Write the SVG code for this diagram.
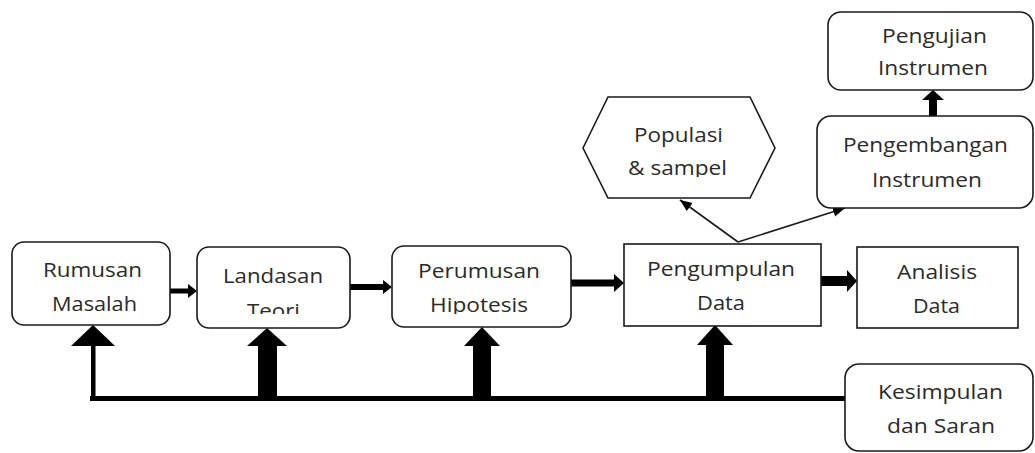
<svg xmlns="http://www.w3.org/2000/svg" width="1035" height="453" viewBox="0 0 1035 453">
<style>
.box{fill:#fff;stroke:#1a1a1a;stroke-width:1.6}
.t{font-family:"Open Sans","Noto Sans",sans-serif;font-size:20px;fill:#2b2b2b;text-anchor:middle}
.arr{fill:#000;stroke:none}
.thin{stroke:#1a1a1a;stroke-width:1.6;fill:none;marker-end:url(#ah)}
</style>
<defs>
<marker id="ah" markerUnits="userSpaceOnUse" markerWidth="14" markerHeight="12" refX="12" refY="6" orient="auto">
<path d="M0,1 L12,6 L0,11 Z" fill="#000"/>
</marker>
<clipPath id="cTeori"><rect x="200" y="290" width="150" height="24"/></clipPath>
<clipPath id="cHipo"><rect x="395" y="290" width="175" height="24"/></clipPath>
<clipPath id="cSampel"><rect x="600" y="155" width="160" height="22"/></clipPath>
</defs>
<rect width="1035" height="453" fill="#fff"/>
<g id="connectors">
<!-- horizontal flow -->
<rect class="arr" x="170" y="288.5" width="19" height="5"/>
<polygon class="arr" points="188,284 197,291 188,298"/>
<rect class="arr" x="350" y="284" width="34" height="6"/>
<polygon class="arr" points="383,280 392,287 383,294"/>
<rect class="arr" x="571" y="279.5" width="44" height="7"/>
<polygon class="arr" points="614,274 624,283 614,292"/>
<rect class="arr" x="821" y="276" width="27" height="10"/>
<polygon class="arr" points="847,270 857,281 847,292"/>
<!-- up to Pengujian -->
<rect class="arr" x="929" y="99" width="8" height="18"/>
<polygon class="arr" points="922,100 933,90 944,100"/>
<!-- from Pengumpulan -->
<line class="thin" x1="738" y1="242" x2="680" y2="200"/>
<line class="thin" x1="738" y1="242" x2="845" y2="208"/>
<!-- feedback bus -->
<rect class="arr" x="90" y="396" width="756" height="5"/>
<rect class="arr" x="91" y="344" width="4.5" height="55"/>
<polygon class="arr" points="71,346 93,325 115,346"/>
<rect class="arr" x="258" y="344" width="19" height="54"/>
<polygon class="arr" points="247,346 267,328 287,346"/>
<rect class="arr" x="473" y="344" width="18" height="54"/>
<polygon class="arr" points="464,346 482,327 500,346"/>
<rect class="arr" x="706" y="343" width="18" height="53"/>
<polygon class="arr" points="697,345 715,325 733,345"/>
</g>
<g id="rumusan">
<rect class="box" x="12" y="242" width="158" height="83" rx="12"/>
<text class="t" x="92.5" y="277" textLength="99" lengthAdjust="spacingAndGlyphs">Rumusan</text>
<text class="t" x="94.5" y="311" textLength="85" lengthAdjust="spacingAndGlyphs">Masalah</text>
</g>
<g id="landasan">
<rect class="box" x="197" y="247" width="153" height="81" rx="12"/>
<text class="t" x="273" y="283" textLength="100" lengthAdjust="spacingAndGlyphs">Landasan</text>
<text class="t" x="273.5" y="318" textLength="53" lengthAdjust="spacingAndGlyphs" clip-path="url(#cTeori)">Teori</text>
</g>
<g id="perumusan">
<rect class="box" x="392" y="246" width="179" height="81" rx="12"/>
<text class="t" x="479" y="278" textLength="122" lengthAdjust="spacingAndGlyphs">Perumusan</text>
<text class="t" x="479" y="312" textLength="98" lengthAdjust="spacingAndGlyphs" clip-path="url(#cHipo)">Hipotesis</text>
</g>
<g id="pengumpulan">
<rect class="box" x="624" y="244" width="197" height="82"/>
<text class="t" x="721" y="276" textLength="148" lengthAdjust="spacingAndGlyphs">Pengumpulan</text>
<text class="t" x="721" y="310" textLength="48" lengthAdjust="spacingAndGlyphs">Data</text>
</g>
<g id="analisis">
<rect class="box" x="857" y="247" width="161" height="81"/>
<text class="t" x="937" y="279" textLength="80" lengthAdjust="spacingAndGlyphs">Analisis</text>
<text class="t" x="936.5" y="313" textLength="47" lengthAdjust="spacingAndGlyphs">Data</text>
</g>
<g id="populasi">
<polygon class="box" points="583,148 608,97 750,97 775,148 750,198 608,198"/>
<text class="t" x="678.5" y="142" textLength="89" lengthAdjust="spacingAndGlyphs">Populasi</text>
<text class="t" x="677.5" y="175" textLength="99" lengthAdjust="spacingAndGlyphs" clip-path="url(#cSampel)">&amp; sampel</text>
</g>
<g id="pengujian">
<rect class="box" x="828" y="12" width="205" height="78" rx="13"/>
<text class="t" x="934.5" y="43" textLength="105" lengthAdjust="spacingAndGlyphs">Pengujian</text>
<text class="t" x="933" y="75" textLength="110" lengthAdjust="spacingAndGlyphs">Instrumen</text>
</g>
<g id="pengembangan">
<rect class="box" x="817" y="116" width="216" height="92" rx="14"/>
<text class="t" x="925.5" y="152" textLength="165" lengthAdjust="spacingAndGlyphs">Pengembangan</text>
<text class="t" x="927" y="187" textLength="110" lengthAdjust="spacingAndGlyphs">Instrumen</text>
</g>
<g id="kesimpulan">
<rect class="box" x="845" y="364" width="188" height="87" rx="14"/>
<text class="t" x="940.5" y="399" textLength="125" lengthAdjust="spacingAndGlyphs">Kesimpulan</text>
<text class="t" x="941" y="433" textLength="108" lengthAdjust="spacingAndGlyphs">dan Saran</text>
</g>
</svg>
